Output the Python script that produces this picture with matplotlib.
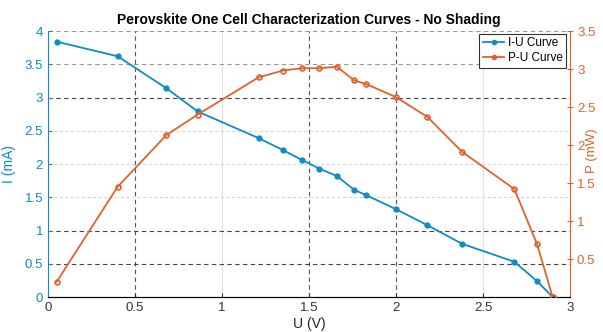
import matplotlib.pyplot as plt
from matplotlib.lines import Line2D

plt.rcParams['font.family'] = ['Liberation Sans', 'DejaVu Sans']

voltage = [0.05, 0.40, 0.68, 0.86, 1.21, 1.35, 1.46, 1.56, 1.66, 1.76, 1.83,
           2.00, 2.18, 2.38, 2.68, 2.81, 2.90]
current = [3.84, 3.62, 3.14, 2.79, 2.39, 2.21, 2.06, 1.93, 1.82, 1.61, 1.53,
           1.32, 1.08, 0.80, 0.53, 0.24, 0.00]
power = [0.20, 1.45, 2.13, 2.40, 2.89, 2.98, 3.01, 3.01, 3.03, 2.85, 2.80,
         2.63, 2.37, 1.91, 1.42, 0.70, 0.00]

x_ticks = [0, 0.5, 1, 1.5, 2, 2.5, 3]
i_ticks = [0, 0.5, 1, 1.5, 2, 2.5, 3, 3.5, 4]
p_ticks = [0.5, 1, 1.5, 2, 2.5, 3, 3.5]

blue = '#0d8cc6'
orange = '#e2622c'

fig = plt.figure(figsize=(6.03, 3.32), dpi=100)
ax = fig.add_axes([0.0796, 0.1054, 0.8657, 0.8012])
ax2 = ax.twinx()

# grid lines, some darker some lighter like the original
for xv in [1, 2.5]:
    ax.axvline(xv, color='#e2e2e2', lw=0.8, zorder=0)
for xv in [0.5, 1.5, 2]:
    ax.axvline(xv, color='#555555', lw=0.8, ls=(0, (4, 3)), zorder=0)
for yv in [1.5, 2, 2.5]:
    ax.axhline(yv, color='#d8d8d8', lw=0.8, ls=(0, (3, 2)), zorder=0)
for yv in [0.5, 1, 3]:
    ax.axhline(yv, color='#444444', lw=0.8, ls=(0, (4, 3)), zorder=0)
for yv in [3.5, 4]:
    ax.axhline(yv, color='#999999', lw=0.8, ls=(0, (4, 3)), zorder=0)

ax.plot(voltage, current, color=blue, lw=1.3, marker='o', ms=3.5,
        mfc=blue, mec=blue, zorder=3)
ax2.plot(voltage, power, color=orange, lw=1.3, marker='o', ms=3.5,
         mfc='none', mec=orange, mew=1.2, zorder=3)

ax.set_xlim(0, 3)
ax.set_ylim(0, 4)
ax2.set_ylim(0, 3.5)
ax.set_xticks(x_ticks)
ax.set_xticklabels([f'{t:g}' for t in x_ticks])
ax.set_yticks(i_ticks)
ax.set_yticklabels([f'{t:g}' for t in i_ticks])
ax2.set_yticks(p_ticks)
ax2.set_yticklabels([f'{t:g}' for t in p_ticks])

ax.tick_params(axis='x', colors='#333333', labelsize=9.5, length=3, direction='in')
ax.tick_params(axis='y', colors=blue, labelsize=9.5, length=3, direction='in')
ax2.tick_params(axis='y', colors=orange, labelsize=9.5, length=4, direction='inout', pad=3)

for a in (ax, ax2):
    a.spines['top'].set_visible(False)
ax.spines['left'].set_color(blue)
ax.spines['bottom'].set_color('#333333')
ax2.spines['right'].set_color(orange)
ax2.spines['left'].set_visible(False)
ax.spines['right'].set_visible(False)

ax.set_xlabel('U (V)', fontsize=10, color='#222222', labelpad=2)
ax.set_ylabel('I (mA)', fontsize=10, color=blue, labelpad=6)
ax2.set_ylabel('P (mW)', fontsize=9.5, color=orange)
ax2.yaxis.set_label_coords(1.03, 0.55)
ax.set_title('Perovskite One Cell Characterization Curves - No Shading',
             fontsize=10, fontweight='bold', pad=5)

handles = [Line2D([], [], color=blue, lw=1.3, marker='o', ms=3),
           Line2D([], [], color=orange, lw=1.3, marker='o', ms=3)]
leg = ax2.legend(handles, ['I-U Curve', 'P-U Curve'], loc='upper right',
                 bbox_to_anchor=(0.995, 0.995), fontsize=8.5, frameon=True,
                 fancybox=False, framealpha=1, edgecolor='#333333',
                 handlelength=1.8, borderpad=0.3, labelspacing=0.25,
                 handletextpad=0.3, borderaxespad=0.1)
leg.get_frame().set_linewidth(0.8)

fig.savefig('out.png', dpi=100)
